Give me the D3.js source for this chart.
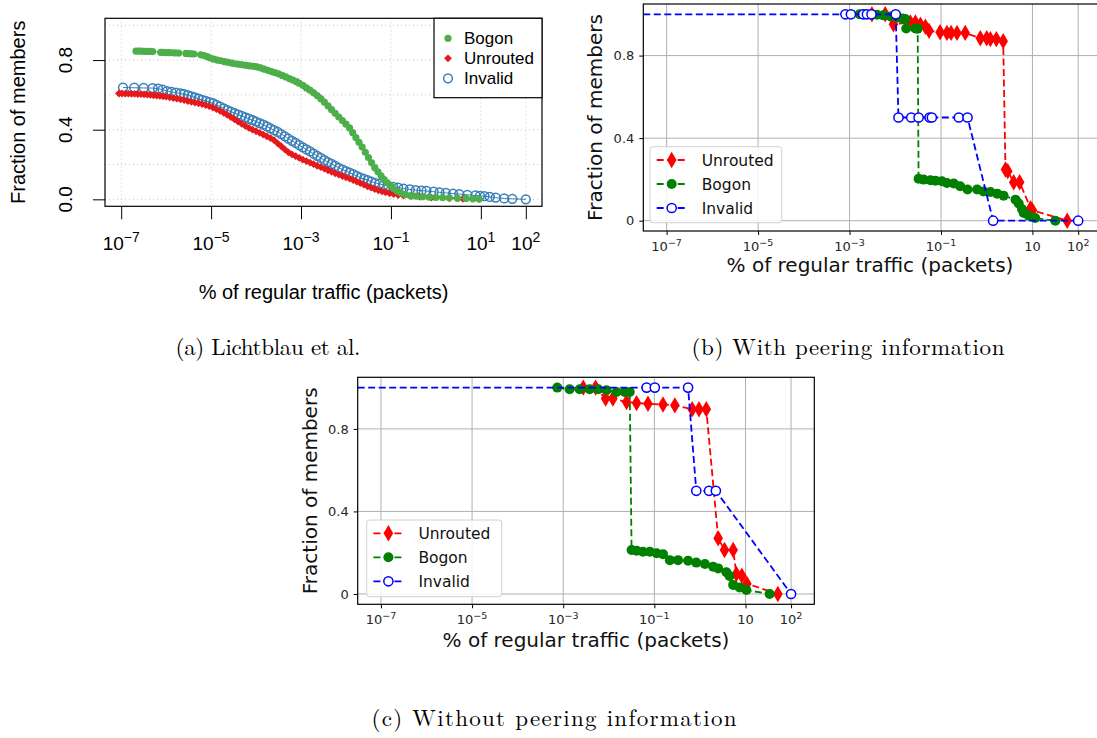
<!DOCTYPE html>
<html>
<head>
<meta charset="utf-8">
<script src="https://cdn.jsdelivr.net/npm/d3@7"></script>
<style>
body{margin:0;background:#fff;}
svg{display:block;}
</style>
</head>
<body>
<svg width="1097" height="738"></svg>
<script>
//data: x is stored as log10 of % of regular traffic, y is fraction of members

//(a) lichtblau et al.
var lichtBogon = [[-6.67,.851],[-6.61,.851],[-6.55,.851],[-6.49,.850],[-6.43,.850],[-6.37,.850],[-6.30,.849],
	[-6.12,.844],[-6.06,.844],[-6.00,.843],[-5.94,.843],[-5.88,.842],[-5.80,.841],[-5.72,.840],
	[-5.56,.838],[-5.50,.837],[-5.44,.836],[-5.38,.835],
	[-5.23,.830],[-5.16,.826],[-5.09,.820],[-5.02,.812],[-4.94,.805],[-4.86,.800],[-4.78,.796],[-4.70,.791],[-4.62,.787],[-4.54,.783],[-4.46,.779],[-4.38,.776],[-4.30,.773],[-4.22,.770],[-4.14,.767],[-4.06,.764],[-3.98,.761],[-3.90,.755],[-3.82,.748],[-3.74,.741],[-3.66,.734],[-3.58,.728],[-3.50,.721],[-3.42,.712],[-3.34,.703],[-3.26,.694],[-3.18,.685],[-3.10,.676],[-3.04,.667],[-2.96,.655],[-2.88,.640],[-2.80,.627],[-2.72,.612],[-2.64,.596],[-2.56,.578],[-2.48,.558],[-2.40,.537],[-2.32,.515],[-2.24,.494],[-2.16,.473],[-2.08,.453],[-2.00,.432],[-1.92,.410],[-1.85,.383],[-1.78,.355],[-1.71,.328],[-1.64,.300],[-1.57,.270],[-1.50,.240],[-1.43,.210],[-1.36,.182],[-1.29,.158],[-1.22,.135],[-1.15,.113],[-1.08,.095],[-1.01,.078],[-0.94,.062],[-0.86,.048],[-0.78,.037],[-0.68,.027],[-0.56,.021],[-0.44,.018],[-0.30,.015],[-0.15,.013],[0.0,.011],[0.15,.010],[0.30,.009],[0.48,.006],[0.67,.005],[0.82,.003],[0.96,.002]];

var lichtUnrouted = [[-7.05,.608],[-6.98,.608],[-6.91,.607],[-6.84,.607],[-6.77,.606],[-6.70,.606],[-6.63,.605],[-6.56,.604],[-6.49,.603],[-6.42,.602],[-6.35,.600],[-6.28,.598],[-6.21,.596],[-6.14,.594],[-6.07,.592],[-6.00,.590],[-5.92,.586],[-5.84,.582],[-5.76,.578],[-5.68,.574],[-5.60,.570],[-5.52,.565],[-5.44,.560],[-5.36,.556],[-5.28,.552],[-5.20,.547],[-5.12,.541],[-5.04,.535],[-4.96,.527],[-4.88,.518],[-4.80,.508],[-4.72,.497],[-4.64,.485],[-4.56,.473],[-4.48,.460],[-4.40,.447],[-4.32,.434],[-4.24,.422],[-4.16,.410],[-4.08,.400],[-4.00,.391],[-3.92,.382],[-3.84,.372],[-3.76,.362],[-3.68,.352],[-3.60,.340],[-3.52,.322],[-3.44,.305],[-3.36,.287],[-3.28,.270],[-3.20,.258],[-3.12,.248],[-3.04,.238],[-2.96,.228],[-2.88,.220],[-2.80,.211],[-2.72,.202],[-2.64,.193],[-2.56,.185],[-2.48,.176],[-2.40,.167],[-2.32,.158],[-2.24,.150],[-2.16,.142],[-2.08,.134],[-2.00,.127],[-1.92,.119],[-1.84,.111],[-1.76,.102],[-1.68,.093],[-1.60,.084],[-1.52,.075],[-1.44,.067],[-1.36,.059],[-1.28,.052],[-1.20,.046],[-1.12,.040],[-1.03,.035],[-0.94,.030],[-0.84,.025],[-0.72,.021],[-0.55,.018],[-0.36,.015],[-0.10,.010],[0.30,.005],[0.60,.003],[0.96,.001]];

var lichtInvalid = [[-6.96,.642],[-6.71,.641],[-6.50,.640],[-6.30,.639],[-6.18,.636],[-6.08,.630],[-5.98,.622],[-5.88,.617],[-5.78,.613],[-5.68,.608],[-5.60,.604],[-5.52,.598],[-5.44,.592],[-5.36,.585],[-5.28,.578],[-5.20,.571],[-5.12,.565],[-5.04,.559],[-4.96,.552],[-4.88,.543],[-4.80,.533],[-4.72,.522],[-4.64,.512],[-4.56,.504],[-4.48,.495],[-4.40,.487],[-4.32,.479],[-4.24,.471],[-4.16,.463],[-4.08,.455],[-4.00,.447],[-3.92,.438],[-3.84,.429],[-3.76,.419],[-3.68,.408],[-3.60,.397],[-3.52,.387],[-3.44,.375],[-3.36,.362],[-3.28,.349],[-3.20,.336],[-3.12,.324],[-3.04,.311],[-2.96,.299],[-2.88,.287],[-2.80,.275],[-2.72,.262],[-2.64,.250],[-2.56,.238],[-2.48,.225],[-2.40,.214],[-2.32,.203],[-2.24,.192],[-2.16,.181],[-2.08,.171],[-2.00,.162],[-1.92,.153],[-1.84,.144],[-1.76,.134],[-1.68,.124],[-1.60,.117],[-1.52,.110],[-1.44,.102],[-1.36,.095],[-1.26,.089],[-1.16,.083],[-1.06,.077],[-0.95,.072],[-0.84,.067],[-0.72,.062],[-0.58,.057],[-0.45,.053],[-0.32,.050],[-0.21,.048],[-0.05,.044],[0.08,.040],[0.22,.037],[0.38,.033],[0.52,.030],[0.70,.026],[0.88,.022],[0.98,.020],[1.08,.018],[1.20,.014],[1.33,.010],[1.52,.005],[1.70,.003],[2.00,.000]];

//(b) with peering information
var peerUnrouted = [[-2.51,1.0],[-2.22,1.0],[-2.04,.952],[-1.67,.96],[-1.56,.96],[-1.45,.95],[-1.34,.94],[-1.26,.92],[-1.02,.913],[-0.87,.91],[-0.78,.91],[-0.65,.91],[-0.47,.91],[-0.14,.884],[0.0,.884],[0.08,.88],[0.21,.88],[0.36,.87],[0.41,.248],[0.46,.24],[0.59,.186],[0.72,.186],[0.96,.06],[1.0,.05],[1.76,0]];
var peerBogon = [[-2.78,1.0],[-2.66,1.0],[-2.52,.998],[-2.40,.998],[-2.26,.995],[-2.10,.99],[-1.95,.985],[-1.85,.98],[-1.78,.977],[-1.76,.931],[-1.56,.931],[-1.51,.93],[-1.49,.203],[-1.38,.199],[-1.23,.196],[-1.12,.194],[-0.98,.191],[-0.87,.183],[-0.72,.18],[-0.58,.167],[-0.42,.151],[-0.21,.151],[-0.07,.142],[0.08,.139],[0.23,.131],[0.37,.121],[0.63,.102],[0.70,.083],[0.77,.057],[0.81,.037],[0.92,.024],[1.06,.013],[1.50,0]];
var peerInvalid = [[-3.09,1],[-2.97,1],[-2.70,1],[-2.62,1],[-2.52,1],[-1.99,1],[-1.93,.5],[-1.65,.5],[-1.49,.5],[-1.25,.5],[-1.20,.5],[-0.61,.5],[-0.42,.5],[0.14,0],[2.0,0]];

//(c) without peering information
var noPeerUnrouted = [[-2.56,1.0],[-2.29,1.0],[-2.07,.947],[-1.91,.947],[-1.61,.93],[-1.39,.925],[-1.14,.922],[-0.81,.918],[-0.55,.914],[-0.17,.895],[-0.02,.895],[0.14,.895],[0.40,.27],[0.54,.213],[0.73,.213],[0.80,.097],[0.92,.088],[1.03,.05],[1.71,0]];
var noPeerBogon = [[-3.13,1.0],[-2.86,.992],[-2.64,.992],[-2.42,.992],[-2.23,.992],[-2.05,.987],[-1.83,.979],[-1.65,.979],[-1.54,.979],[-1.50,.213],[-1.39,.21],[-1.25,.205],[-1.10,.205],[-0.95,.197],[-0.81,.193],[-0.66,.164],[-0.48,.164],[-0.26,.161],[-0.08,.152],[0.11,.145],[0.29,.132],[0.40,.124],[0.58,.105],[0.65,.087],[0.73,.044],[0.87,.031],[1.02,.019],[1.53,0]];
var noPeerInvalid = [[-1.17,1],[-0.99,1],[-0.26,1],[-0.08,.5],[0.20,.5],[0.35,.5],[2.0,0]];

//ticks
var xTickExp = [-7,-5,-3,-1,1,2];
var xTickSupA = ['\u22127','\u22125','\u22123','\u22121','1','2'];
var xTickSupB = ['\u22127','\u22125','\u22123','\u22121','','2'];
var yTicks = [0,0.4,0.8];
var yTickLabelsA = ['0.0','0.4','0.8'];
var yTickLabelsB = ['0','0.4','0.8'];
var yGridA = [0,0.2,0.4,0.6,0.8,1.0];
var captions = ['(a) Lichtblau et al.','(b) With peering information','(c) Without peering information'];
var xTitle = '% of regular traffic (packets)';
var yTitle = 'Fraction of members';

var svg = d3.select('svg');
var p10 = function(e){return Math.pow(10,e);};

//marker shapes
function diamondPath(cx,cy,w,h){
	return 'M'+cx+','+(cy-h)+'L'+(cx+w)+','+cy+'L'+cx+','+(cy+h)+'L'+(cx-w)+','+cy+'Z';
}
function drawMarker(g,kind,cx,cy,color,big){
	if(kind === 'dot'){
		g.append('circle').attr('cx',cx).attr('cy',cy).attr('r',big?5:3.6).attr('fill',color);
	} else if(kind === 'diamond'){
		g.append('path').attr('d',big?diamondPath(cx,cy,4.8,8.2):diamondPath(cx,cy,3.9,3.9)).attr('fill',color);
	} else {
		g.append('circle').attr('cx',cx).attr('cy',cy).attr('r',big?4.6:4.4).attr('fill',big?'#fff':'none').attr('stroke',color).attr('stroke-width',1.5);
	}
}

/* ---------- panel (a), R style ---------- */
var A = {x0:105,x1:542,y0:18.3,y1:206.3};
var xa = d3.scaleLog().domain([p10(-7.36),p10(2.36)]).range([A.x0,A.x1]);
var ya = d3.scaleLinear().domain([-0.04,1.04]).range([A.y1,A.y0]);
var ga = svg.append('g').attr('font-family','"Liberation Sans", Arial, sans-serif');

//dotted grid
ga.selectAll('.vg').data(xTickExp).enter().append('line').attr('x1',function(d){return xa(p10(d));}).attr('x2',function(d){return xa(p10(d));}).attr('y1',A.y0).attr('y2',A.y1).attr('stroke','#c8c8c8').attr('stroke-dasharray','1,3');
ga.selectAll('.hg').data(yGridA).enter().append('line').attr('y1',function(d){return ya(d);}).attr('y2',function(d){return ya(d);}).attr('x1',A.x0).attr('x2',A.x1).attr('stroke','#c8c8c8').attr('stroke-dasharray','1,3');

//axes
var axA = ga.append('g').attr('transform','translate(0,'+A.y1+')').call(d3.axisBottom(xa).tickValues(xTickExp.map(p10)).tickSize(13).tickFormat(''));
axA.select('.domain').remove();
axA.selectAll('line').attr('stroke','#000');
var ayA = ga.append('g').attr('transform','translate('+A.x0+',0)').call(d3.axisLeft(ya).tickValues(yTicks).tickSize(12).tickFormat(''));
ayA.select('.domain').remove();
ayA.selectAll('line').attr('stroke','#000');

var xl = ga.selectAll('.xl').data(xTickExp).enter().append('text').attr('x',function(d){return xa(p10(d));}).attr('y',250).attr('text-anchor','middle').attr('font-size',19).attr('fill','#000');
xl.append('tspan').text('10');
xl.append('tspan').attr('dy',-8).attr('font-size',14).text(function(d,i){return xTickSupA[i];});

ga.selectAll('.yl').data(yTicks).enter().append('text').attr('transform',function(d){return 'translate(72,'+ya(d)+') rotate(-90)';}).attr('text-anchor','middle').attr('font-size',19).text(function(d,i){return yTickLabelsA[i];});

ga.append('text').attr('x',(A.x0+A.x1)/2).attr('y',299).attr('text-anchor','middle').attr('font-size',20).text(xTitle);
ga.append('text').attr('transform','translate(25,'+((A.y0+A.y1)/2)+') rotate(-90)').attr('text-anchor','middle').attr('font-size',20).text(yTitle);

//series, drawn with thin connecting lines
var lineA = d3.line().x(function(d){return xa(p10(d[0]));}).y(function(d){return ya(d[1]);});
var seriesA = [
	{data:lichtInvalid,color:'#377eb8',kind:'ring'},
	{data:lichtUnrouted,color:'#e41a1c',kind:'diamond'},
	{data:lichtBogon,color:'#4daf4a',kind:'dot'}
];
seriesA.forEach(function(s){
	ga.append('path').attr('d',lineA(s.data)).attr('fill','none').attr('stroke',s.color).attr('stroke-width',1);
	var mg = ga.append('g');
	s.data.forEach(function(d){drawMarker(mg,s.kind,xa(p10(d[0])),ya(d[1]),s.color,false);});
});

ga.append('rect').attr('x',A.x0).attr('y',A.y0).attr('width',A.x1-A.x0).attr('height',A.y1-A.y0).attr('fill','none').attr('stroke','#000').attr('stroke-width',1.2);

//legend (a)
var legA = ga.append('g');
legA.append('rect').attr('x',434).attr('y',A.y0).attr('width',A.x1-434).attr('height',79.4).attr('fill','#fff').attr('stroke','#000').attr('stroke-width',1.2);
[{name:'Bogon',color:'#4daf4a',kind:'dot'},{name:'Unrouted',color:'#e41a1c',kind:'diamond'},{name:'Invalid',color:'#377eb8',kind:'ring'}].forEach(function(e,i){
	var yy = 38.3 + i*20;
	drawMarker(legA,e.kind,448,yy,e.color,false);
	legA.append('text').attr('x',464).attr('y',yy+6).attr('font-size',17).text(e.name);
});

/* ---------- panels (b) and (c), matplotlib style ---------- */
function mplPanel(box,legendBox,unrouted,bogon,invalid,titleY,labelX){
	var x = d3.scaleLog().domain([p10(-7.51),p10(2.51)]).range([box.x0,box.x1]);
	var y = d3.scaleLinear().domain([-0.05,1.05]).range([box.y1,box.y0]);
	var g = svg.append('g').attr('font-family','"DejaVu Sans", sans-serif');

	//grid
	g.selectAll('.vg').data(xTickExp).enter().append('line').attr('x1',function(d){return x(p10(d));}).attr('x2',function(d){return x(p10(d));}).attr('y1',box.y0).attr('y2',box.y1).attr('stroke','#b0b0b0').attr('stroke-width',1);
	g.selectAll('.hg').data(yTicks).enter().append('line').attr('y1',function(d){return y(d);}).attr('y2',function(d){return y(d);}).attr('x1',box.x0).attr('x2',box.x1).attr('stroke','#b0b0b0').attr('stroke-width',1);

	var ax = g.append('g').attr('transform','translate(0,'+box.y1+')').call(d3.axisBottom(x).tickValues(xTickExp.map(p10)).tickSize(4).tickFormat(''));
	ax.select('.domain').remove();
	var tl = g.selectAll('.xl').data(xTickExp).enter().append('text').attr('x',function(d){return x(p10(d));}).attr('y',box.y1+20).attr('text-anchor','middle').attr('font-size',13).attr('fill','#262626');
	tl.append('tspan').text('10');
	tl.append('tspan').attr('dy',-5.5).attr('font-size',9.5).text(function(d,i){return xTickSupB[i];});

	var ay = g.append('g').attr('transform','translate('+box.x0+',0)').call(d3.axisLeft(y).tickValues(yTicks).tickSize(4).tickPadding(5).tickFormat(function(d,i){return yTickLabelsB[i];}));
	ay.select('.domain').remove();
	ay.selectAll('text').attr('font-size',13).attr('font-family','"DejaVu Sans", sans-serif').attr('fill','#262626');

	g.append('text').attr('x',labelX).attr('y',titleY).attr('text-anchor','middle').attr('font-size',20).attr('fill','#111').text(xTitle);
	g.append('text').attr('transform','translate('+(box.x0-41)+','+((box.y0+box.y1)/2)+') rotate(-90)').attr('text-anchor','middle').attr('font-size',20).attr('fill','#111').text(yTitle);

	var line = d3.line().x(function(d){return x(p10(d[0]));}).y(function(d){return y(d[1]);});
	var series = [
		{data:unrouted,color:'#ff0000',kind:'diamond'},
		{data:bogon,color:'#008000',kind:'dot'},
		//invalid is drawn from the left edge of the axis
		{data:[[Math.log10(x.domain()[0]),invalid[0][1]]].concat(invalid),color:'#0000ff',kind:'ring',skipFirst:true}
	];
	series.forEach(function(s){
		g.append('path').attr('d',line(s.data)).attr('fill','none').attr('stroke',s.color).attr('stroke-width',1.8).attr('stroke-dasharray','7,3.5');
		var mg = g.append('g');
		s.data.forEach(function(d,i){
			if(s.skipFirst && i===0){return;}
			drawMarker(mg,s.kind,x(p10(d[0])),y(d[1]),s.color,true);
		});
	});

	g.append('rect').attr('x',box.x0).attr('y',box.y0).attr('width',box.x1-box.x0).attr('height',box.y1-box.y0).attr('fill','none').attr('stroke','#000').attr('stroke-width',1.2);

	//legend
	var lg = g.append('g');
	lg.append('rect').attr('x',legendBox.x).attr('y',legendBox.y).attr('width',legendBox.w).attr('height',legendBox.h).attr('rx',3).attr('fill','#fff').attr('fill-opacity',0.85).attr('stroke','#d0d0d0');
	[{name:'Unrouted',color:'#ff0000',kind:'diamond'},{name:'Bogon',color:'#008000',kind:'dot'},{name:'Invalid',color:'#0000ff',kind:'ring'}].forEach(function(e,i){
		var yy = legendBox.y + 13.3 + i*24;
		var lx = legendBox.x + 6.7;
		lg.append('line').attr('x1',lx).attr('x2',lx+30).attr('y1',yy).attr('y2',yy).attr('stroke',e.color).attr('stroke-width',1.8).attr('stroke-dasharray','7,3.5');
		drawMarker(lg,e.kind,lx+15,yy,e.color,true);
		lg.append('text').attr('x',lx+45).attr('y',yy+5.5).attr('font-size',15.5).attr('fill','#111').text(e.name);
	});
}

mplPanel({x0:643.3,x1:1101.5,y0:4,y1:231},{x:650,y:146.7,w:131.7,h:76},peerUnrouted,peerBogon,peerInvalid,272,870);
mplPanel({x0:357.7,x1:814.3,y0:377.3,y1:604.3},{x:366.7,y:520,w:135,h:76.7},noPeerUnrouted,noPeerBogon,noPeerInvalid,647,586);

//captions, computer modern is wider than the serif we have so stretch to the measured width
var capPos = [[268,355,185],[848,355,313],[554,726,365]];
svg.selectAll('.cap').data(captions).enter().append('text').attr('x',function(d,i){return capPos[i][0];}).attr('y',function(d,i){return capPos[i][1];}).attr('text-anchor','middle').attr('font-family','"Latin Modern Roman","CMU Serif","Liberation Serif",serif').attr('font-size',23).attr('textLength',function(d,i){return capPos[i][2];}).attr('lengthAdjust','spacing').attr('fill','#000').text(function(d){return d;});
</script>
</body>
</html>
